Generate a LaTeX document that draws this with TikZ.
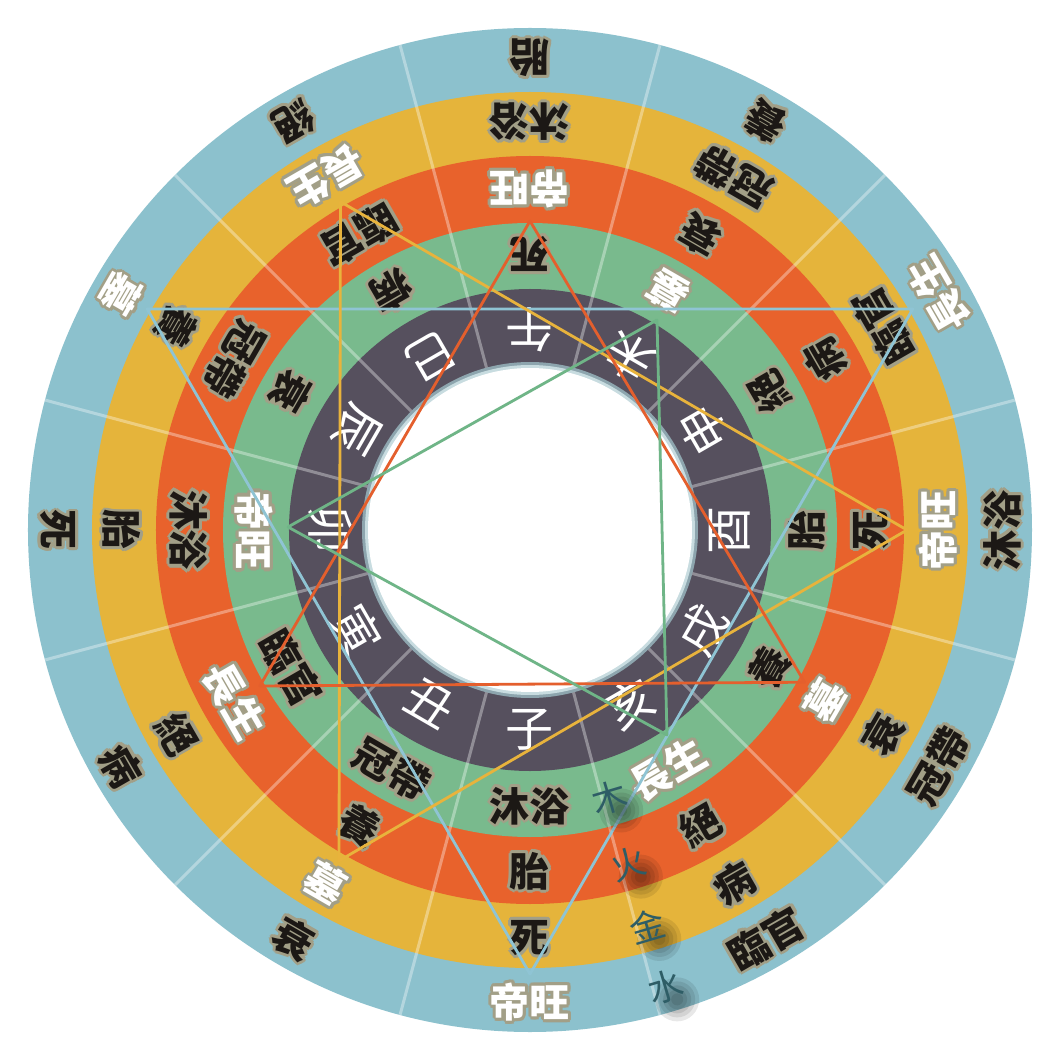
\documentclass[tikz,border=0pt]{standalone}
\usepackage{fontspec}
\newfontfamily\cjk{Noto Sans CJK TC}
\usetikzlibrary{calc}
\definecolor{ringblue}{HTML}{8CC1CD}
\definecolor{ringyellow}{HTML}{E5B43B}
\definecolor{ringred}{HTML}{E8622C}
\definecolor{ringgreen}{HTML}{79BA8D}
\definecolor{ringdark}{HTML}{56505E}
\definecolor{halo}{HTML}{A29F87}
\definecolor{dk}{HTML}{1C1815}
\definecolor{glowa}{HTML}{8DA5AE}
\definecolor{glowb}{HTML}{C8DCE0}
\definecolor{lblue}{HTML}{8FC4D4}
\definecolor{lyellow}{HTML}{E8B33C}
\definecolor{lred}{HTML}{E45F2D}
\definecolor{lgreen}{HTML}{6FB587}
\definecolor{elemc}{HTML}{2E5D66}
\tikzset{
  lab/.style={inner sep=0pt, font=\cjk\bfseries\fontsize{40pt}{40pt}\selectfont},
  brch/.style={inner sep=0pt, text=white, font=\cjk\fontsize{48pt}{48pt}\selectfont},
  elem/.style={inner sep=0pt, text=elemc, font=\cjk\fontsize{35pt}{35pt}\selectfont},
  divider/.style={white, opacity=0.35, line width=3pt},
  tri/.style={line width=2.8pt, line join=round},
}
\newcommand{\stg}[5]{%
  \foreach \hh in {0,30,...,330}{%
    \node[lab, text=halo, rotate=#2+90] at ($(#2:#3)+(\hh:3.0)$) {#4};}
  \node[lab, text=#5, rotate=#2+90] (#1) at (#2:#3) {#4};
}
\begin{document}
\begin{tikzpicture}[x=1pt,y=1pt]
\useasboundingbox (-530,-533) rectangle (533,530);
\fill[white] (-530,-533) rectangle (533,530);
% rings
\fill[ringblue] (0,0) circle (502);
\fill[ringyellow] (0,0) circle (438);
\fill[ringred] (0,0) circle (374);
\fill[ringgreen] (0,0) circle (307);
\fill[ringdark] (0,0) circle (241);
% dividers
\foreach \a in {15,45,...,345} \draw[divider] (\a:158) -- (\a:502);
% centre
\fill[glowa] (0,0) circle (168);
\fill[glowb] (0,0) circle (165);
\fill[white] (0,0) circle (162);
% branches
\foreach \b [count=\k from 0] in {子,丑,寅,卯,辰,巳,午,未,申,酉,戌,亥}{%
  \pgfmathsetmacro\ab{270-30*\k}
  \node[brch, rotate=\ab+90] (b\k) at (\ab:200) {\b};
}
% life stages
\foreach \t/\c [count=\j from 0] in {長生/white,沐浴/dk,冠帶/dk,臨官/dk,帝旺/white,衰/dk,病/dk,死/dk,墓/white,絕/dk,胎/dk,養/dk}{%
  \pgfmathsetmacro\ag{-60-30*\j}
  \stg{g\j}{\ag}{276}{\t}{\c}
  \pgfmathsetmacro\ar{210-30*\j}
  \stg{r\j}{\ar}{341}{\t}{\c}
  \pgfmathsetmacro\ay{120-30*\j}
  \stg{y\j}{\ay}{408}{\t}{\c}
  \pgfmathsetmacro\aw{30-30*\j}
  \stg{w\j}{\aw}{472}{\t}{\c}
}
% triangles
\coordinate (W1) at (150:442);
\coordinate (W2) at (30:442);
\coordinate (W3) at (-90:444);
\draw[tri, lblue] (W1) -- (W2) -- (W3) -- cycle;
\coordinate (Y1) at (120:379);
\coordinate (Y2) at (0:377);
\coordinate (Y3) at (240:382);
\draw[tri, lyellow] (Y1) -- (Y2) -- (Y3) -- cycle;
\coordinate (R1) at (90:309);
\coordinate (R2) at (-29:314);
\coordinate (R3) at (210:312);
\draw[tri, lred] (R1) -- (R2) -- (R3) -- cycle;
\coordinate (G1) at (-242,3);
\coordinate (G2) at (127,210);
\coordinate (G3) at (137,-205);
\draw[tri, lgreen] (G1) -- (G2) -- (G3) -- cycle;
% element labels
\foreach \e/\rr in {木/279,火/348,金/413,水/476}{%
  \foreach \s in {22,18,14,10,6}{%
    \fill[black, opacity=0.09] ($(-73.5:\rr)+(12,-13)$) circle (\s);}
  \node[elem, rotate=16.5] (e\rr) at (-73.5:\rr) {\e};
}
\end{tikzpicture}
\end{document}
